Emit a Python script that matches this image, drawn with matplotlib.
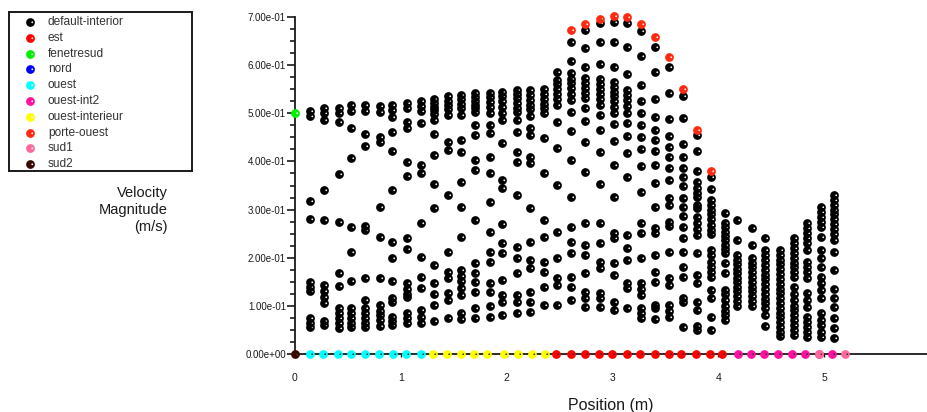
"""
Velocity magnitude along the position line (Fluent XY plot export look).
Saves out.png (927x412).
"""

import numpy as np
import matplotlib
matplotlib.use("Agg")
import matplotlib.pyplot as plt
from matplotlib.path import Path
from matplotlib.ticker import MultipleLocator, FuncFormatter

# ----------------------------------------------------------------------
# Data
# ----------------------------------------------------------------------
series_names = [
    "default-interior", "est", "fenetresud", "nord", "ouest",
    "ouest-int2", "ouest-interieur", "porte-ouest", "sud1", "sud2",
]
series_colors = [
    "#000000", "#ff0000", "#00f000", "#0000ff", "#00ffff",
    "#ff10a0", "#ffff00", "#ff2a10", "#ff6a9a", "#3a0800",
]

# default-interior: one column of nodes per x position
interior_x = [
    0.139, 0.274, 0.413, 0.532, 0.665, 0.801, 0.920, 1.056, 1.194, 1.311,
    1.446, 1.571, 1.704, 1.840, 1.956, 2.095, 2.218, 2.353, 2.479, 2.611,
    2.744, 2.880, 3.012, 3.138, 3.267, 3.400, 3.535, 3.667, 3.799, 3.932,
    4.064, 4.180, 4.322, 4.439, 4.581, 4.713, 4.842, 4.968, 5.099,
]
interior_y = [
    [0.505, 0.495, 0.318, 0.28, 0.15, 0.14, 0.13, 0.075, 0.065, 0.056],
    [0.512, 0.50, 0.487, 0.34, 0.278, 0.143, 0.131, 0.118, 0.106, 0.068, 0.06],
    [0.51, 0.50, 0.482, 0.374, 0.274, 0.168, 0.141, 0.096, 0.085, 0.075, 0.064, 0.055],
    [0.517, 0.505, 0.469, 0.407, 0.264, 0.212, 0.152, 0.096, 0.086, 0.075, 0.065, 0.056],
    [0.517, 0.505, 0.457, 0.432, 0.265, 0.258, 0.158, 0.112, 0.096, 0.086, 0.075, 0.065, 0.056],
    [0.515, 0.503, 0.451, 0.44, 0.305, 0.243, 0.158, 0.102, 0.09, 0.08, 0.07, 0.058],
    [0.518, 0.507, 0.492, 0.461, 0.422, 0.34, 0.233, 0.2, 0.152, 0.116, 0.108, 0.077, 0.068, 0.06],
    [0.522, 0.512, 0.482, 0.47, 0.399, 0.37, 0.241, 0.218, 0.147, 0.136, 0.125, 0.118, 0.085, 0.075, 0.064],
    [0.525, 0.515, 0.505, 0.48, 0.393, 0.376, 0.272, 0.202, 0.16, 0.137, 0.091, 0.076, 0.065],
    [0.53, 0.522, 0.514, 0.506, 0.498, 0.486, 0.457, 0.413, 0.353, 0.303, 0.185, 0.147, 0.125, 0.102, 0.069],
    [0.535, 0.526, 0.517, 0.508, 0.496, 0.44, 0.424, 0.33, 0.212, 0.17, 0.158, 0.127, 0.112, 0.075],
    [0.538, 0.53, 0.52, 0.512, 0.496, 0.445, 0.42, 0.357, 0.305, 0.243, 0.174, 0.163, 0.152, 0.137, 0.123, 0.085, 0.073],
    [0.542, 0.534, 0.526, 0.518, 0.51, 0.502, 0.476, 0.455, 0.403, 0.382, 0.278, 0.189, 0.168, 0.15, 0.129, 0.096, 0.075],
    [0.543, 0.533, 0.523, 0.513, 0.50, 0.476, 0.459, 0.409, 0.376, 0.316, 0.253, 0.212, 0.191, 0.147, 0.129, 0.10, 0.077],
    [0.545, 0.535, 0.525, 0.514, 0.50, 0.486, 0.438, 0.361, 0.345, 0.27, 0.23, 0.21, 0.154, 0.123, 0.108, 0.081],
    [0.548, 0.54, 0.531, 0.522, 0.512, 0.502, 0.486, 0.461, 0.42, 0.399, 0.33, 0.222, 0.20, 0.168, 0.123, 0.108, 0.085],
    [0.548, 0.538, 0.528, 0.518, 0.508, 0.495, 0.47, 0.455, 0.409, 0.397, 0.303, 0.233, 0.195, 0.179, 0.129, 0.108, 0.088],
    [0.55, 0.54, 0.53, 0.52, 0.51, 0.50, 0.449, 0.376, 0.278, 0.243, 0.191, 0.17, 0.139, 0.102],
    [0.586, 0.57, 0.56, 0.55, 0.54, 0.53, 0.517, 0.482, 0.428, 0.351, 0.253, 0.20, 0.158, 0.143, 0.102],
    [0.649, 0.609, 0.584, 0.572, 0.562, 0.552, 0.541, 0.528, 0.503, 0.463, 0.403, 0.326, 0.264, 0.233, 0.21, 0.16, 0.139, 0.112],
    [0.674, 0.635, 0.596, 0.573, 0.563, 0.553, 0.542, 0.532, 0.511, 0.484, 0.44, 0.378, 0.272, 0.226, 0.206, 0.168, 0.129, 0.116, 0.098],
    [0.687, 0.649, 0.602, 0.571, 0.561, 0.551, 0.54, 0.53, 0.517, 0.496, 0.465, 0.42, 0.353, 0.272, 0.23, 0.191, 0.179, 0.127, 0.116, 0.098],
    [0.69, 0.649, 0.597, 0.565, 0.555, 0.545, 0.535, 0.525, 0.514, 0.50, 0.478, 0.442, 0.393, 0.326, 0.251, 0.241, 0.189, 0.164, 0.108, 0.091],
    [0.687, 0.638, 0.582, 0.548, 0.538, 0.528, 0.515, 0.50, 0.48, 0.453, 0.417, 0.367, 0.247, 0.22, 0.195, 0.147, 0.137, 0.096],
    [0.67, 0.618, 0.559, 0.526, 0.50, 0.476, 0.451, 0.426, 0.39, 0.336, 0.272, 0.251, 0.20, 0.147, 0.136, 0.123, 0.096, 0.085, 0.075],
    [0.638, 0.585, 0.529, 0.492, 0.465, 0.445, 0.422, 0.393, 0.355, 0.305, 0.262, 0.252, 0.206, 0.17, 0.15, 0.102, 0.095, 0.073],
    [0.596, 0.543, 0.488, 0.453, 0.43, 0.41, 0.386, 0.361, 0.324, 0.31, 0.274, 0.265, 0.212, 0.158, 0.143, 0.102, 0.089, 0.077],
    [0.536, 0.49, 0.436, 0.409, 0.386, 0.368, 0.349, 0.324, 0.305, 0.287, 0.264, 0.241, 0.212, 0.181, 0.16, 0.116, 0.108, 0.056],
    [0.455, 0.422, 0.38, 0.357, 0.345, 0.335, 0.326, 0.31, 0.303, 0.285, 0.272, 0.26, 0.247, 0.21, 0.164, 0.147, 0.108, 0.091, 0.058, 0.05],
    [0.368, 0.343, 0.32, 0.31, 0.30, 0.29, 0.28, 0.268, 0.258, 0.25, 0.216, 0.205, 0.191, 0.181, 0.17, 0.16, 0.133, 0.116, 0.077, 0.05],
    [0.293, 0.272, 0.263, 0.254, 0.245, 0.236, 0.227, 0.218, 0.209, 0.189, 0.168, 0.133, 0.124, 0.112, 0.10, 0.09, 0.08, 0.07],
    [0.278, 0.237, 0.206, 0.196, 0.187, 0.177, 0.168, 0.158, 0.149, 0.139, 0.13, 0.12, 0.11, 0.10],
    [0.262, 0.226, 0.20, 0.19, 0.18, 0.17, 0.16, 0.15, 0.14, 0.13, 0.12, 0.11, 0.10],
    [0.241, 0.216, 0.205, 0.195, 0.185, 0.175, 0.165, 0.155, 0.145, 0.135, 0.125, 0.115, 0.105, 0.095, 0.081, 0.058],
    [0.216, 0.206, 0.196, 0.186, 0.176, 0.166, 0.156, 0.146, 0.136, 0.126, 0.116, 0.106, 0.096, 0.086, 0.076, 0.066, 0.056, 0.046, 0.038],
    [0.241, 0.231, 0.221, 0.21, 0.20, 0.19, 0.181, 0.17, 0.16, 0.139, 0.125, 0.112, 0.10, 0.091, 0.08, 0.07, 0.06, 0.05, 0.04],
    [0.272, 0.262, 0.252, 0.241, 0.23, 0.216, 0.191, 0.18, 0.17, 0.158, 0.127, 0.112, 0.098, 0.077, 0.066, 0.056, 0.046, 0.036],
    [0.305, 0.295, 0.285, 0.275, 0.264, 0.243, 0.216, 0.20, 0.181, 0.16, 0.147, 0.133, 0.116, 0.085, 0.07, 0.06, 0.046, 0.036],
    [0.33, 0.32, 0.31, 0.30, 0.29, 0.28, 0.27, 0.26, 0.25, 0.237, 0.212, 0.174, 0.135, 0.116, 0.098, 0.075, 0.054, 0.033],
]

# boundary zones (walls sit at 0 m/s, the door line carries the top arc)
est_x = [2.467, 2.613, 2.738, 2.873, 2.998, 3.136, 3.262, 3.401, 3.535,
         3.652, 3.786, 3.921, 4.038]
est_y = [0.0] * len(est_x)

fenetresud_x = [0.0]
fenetresud_y = [0.500]

nord_x = []
nord_y = []

ouest_x = [0.139, 0.265, 0.404, 0.526, 0.664, 0.798, 0.924, 1.049, 1.188]
ouest_y = [0.0] * len(ouest_x)

ouest_int2_x = [4.184, 4.310, 4.435, 4.570, 4.699, 4.821, 4.950, 5.076]
ouest_int2_y = [0.0] * len(ouest_int2_x)

ouest_interieur_x = [1.304, 1.439, 1.565, 1.691, 1.817, 1.972, 2.110, 2.236, 2.362]
ouest_interieur_y = [0.0] * len(ouest_interieur_x)

porte_ouest_x = [2.611, 2.744, 2.880, 3.012, 3.138, 3.267, 3.400, 3.535,
                 3.667, 3.799, 3.932]
porte_ouest_y = [0.672, 0.685, 0.696, 0.702, 0.700, 0.685, 0.658, 0.616,
                 0.550, 0.465, 0.381]

sud1_x = [4.955, 5.202]
sud1_y = [0.0, 0.0]

sud2_x = [0.0]
sud2_y = [0.0]

X_MAX = 5.974
Y_MAX = 0.70

TEXT_COLOR = "#1a1a1a"
FONT = ["Liberation Sans", "DejaVu Sans"]


def ball_marker():
    """Filled disc with a small off-centre highlight, like Fluent's shaded balls."""
    t = np.linspace(0, 2 * np.pi, 48)
    outer = np.column_stack([np.cos(t), np.sin(t)])
    inner = np.column_stack([0.40 + 0.2 * np.cos(-t), 0.05 + 0.2 * np.sin(-t)])
    return Path.make_compound_path(Path(outer, closed=True), Path(inner, closed=True))


def main():
    plt.rcParams["font.family"] = FONT
    fig = plt.figure(figsize=(9.27, 4.12), dpi=100)
    ax = fig.add_axes([295 / 927, 58 / 412, 632 / 927, 337 / 412])

    marker = ball_marker()
    ms = 6.3

    xi = np.concatenate([[x] * len(ys) for x, ys in zip(interior_x, interior_y)])
    yi = np.concatenate(interior_y)

    zones = [
        (xi, yi), (est_x, est_y), (fenetresud_x, fenetresud_y), (nord_x, nord_y),
        (ouest_x, ouest_y), (ouest_int2_x, ouest_int2_y),
        (ouest_interieur_x, ouest_interieur_y), (porte_ouest_x, porte_ouest_y),
        (sud1_x, sud1_y), (sud2_x, sud2_y),
    ]
    for (x, y), color in zip(zones, series_colors):
        ax.plot(x, y, linestyle="none", marker=marker, markersize=ms,
                color=color, markeredgewidth=0, clip_on=False, zorder=3)

    ax.set_xlim(0, X_MAX)
    ax.set_ylim(0, Y_MAX)

    for side in ("top", "right"):
        ax.spines[side].set_visible(False)
    for side in ("left", "bottom"):
        ax.spines[side].set_linewidth(1.3)
        ax.spines[side].set_color(TEXT_COLOR)

    ax.xaxis.set_major_locator(MultipleLocator(1))
    ax.yaxis.set_major_locator(MultipleLocator(0.1))
    ax.yaxis.set_minor_locator(MultipleLocator(0.025))
    ax.yaxis.set_major_formatter(FuncFormatter(lambda v, _: f"{v:.2e}"))

    ax.tick_params(axis="x", length=2.5, width=1, pad=11, labelsize=7.5,
                   colors=TEXT_COLOR)
    ax.tick_params(axis="y", which="major", length=6, width=1.2, pad=0.5,
                   labelsize=7, colors=TEXT_COLOR)
    ax.tick_params(axis="y", which="minor", length=3.5, width=1.2,
                   colors=TEXT_COLOR)

    ax.set_xlabel("Position (m)", fontsize=11.5, color=TEXT_COLOR, labelpad=11)
    fig.text(168 / 927, 1 - 210 / 412, "Velocity\nMagnitude\n(m/s)",
             ha="right", va="center", multialignment="right",
             fontsize=10.5, color=TEXT_COLOR, linespacing=1.3)

    # legend box, laid out row by row as in the Fluent window
    lg = fig.add_axes([9 / 927, 1 - 171 / 412, 183 / 927, 159 / 412])
    lg.set_xlim(0, 183)
    lg.set_ylim(159, 0)
    lg.set_xticks([])
    lg.set_yticks([])
    for sp in lg.spines.values():
        sp.set_linewidth(1.4)
        sp.set_color(TEXT_COLOR)
    for i, (name, color) in enumerate(zip(series_names, series_colors)):
        row = 10 + 15.8 * i
        lg.plot([21], [row], linestyle="none", marker=marker, markersize=ms,
                color=color, markeredgewidth=0)
        lg.text(39, row, name, ha="left", va="center", fontsize=8.6,
                color="#333333")

    fig.savefig("out.png", dpi=100)
    plt.close(fig)


if __name__ == "__main__":
    main()
